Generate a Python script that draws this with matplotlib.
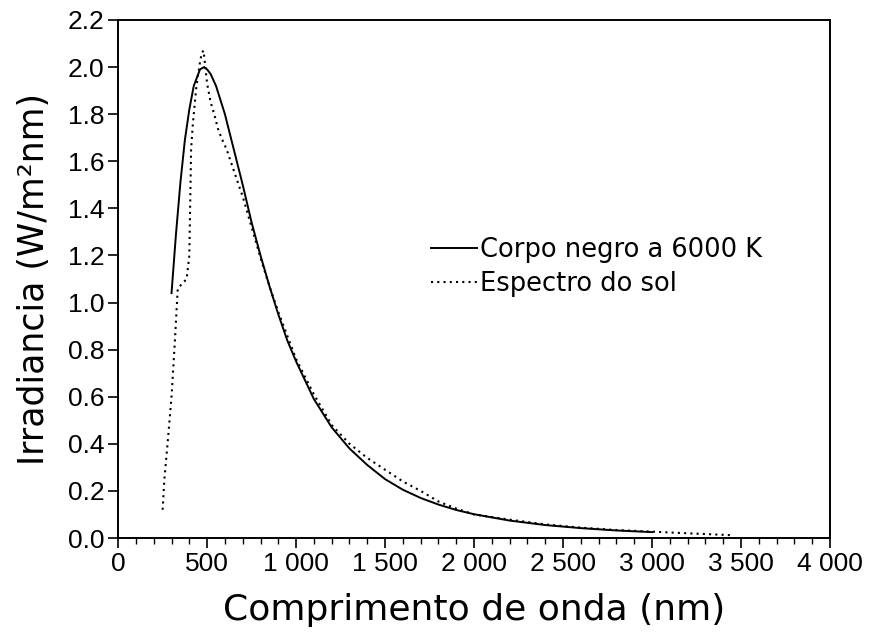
import numpy as np
import matplotlib.pyplot as plt
from matplotlib.ticker import MultipleLocator

# Blackbody curve at 6000 K
bb_wl = [300, 325, 350, 375, 400, 425, 450, 460, 483, 500, 520, 550, 600, 650, 700, 750,
         800, 850, 900, 950, 1000, 1100, 1200, 1300, 1400, 1500, 1600, 1700, 1800,
         1900, 2000, 2200, 2400, 2600, 2800, 3000]
bb_irr = [1.04, 1.29, 1.51, 1.69, 1.82, 1.92, 1.97, 1.99, 2.00, 1.99, 1.97, 1.92, 1.80, 1.65,
          1.50, 1.34, 1.20, 1.07, 0.95, 0.84, 0.75, 0.59, 0.47, 0.38, 0.31, 0.25, 0.205,
          0.17, 0.142, 0.119, 0.101, 0.074, 0.055, 0.042, 0.032, 0.025]

# Solar spectrum (dotted)
sun_wl = [250, 260, 280, 300, 320, 335, 360, 385, 400, 410, 420, 440, 460, 470, 480,
          490, 500, 520, 540, 560, 580, 610, 650, 700, 750, 800, 850, 900, 950, 1000,
          1100, 1200, 1300, 1400, 1500, 1600, 1700, 1800, 1900, 2000, 2200, 2400,
          2600, 2800, 3000, 3200, 3450]
sun_irr = [0.12, 0.25, 0.42, 0.60, 0.85, 1.06, 1.08, 1.10, 1.20, 1.65, 1.76, 1.92, 2.02, 2.06, 2.07,
           2.00, 1.93, 1.85, 1.80, 1.74, 1.70, 1.65, 1.56, 1.45, 1.32, 1.19, 1.07, 0.96, 0.86, 0.76,
           0.61, 0.48, 0.40, 0.34, 0.29, 0.24, 0.20, 0.155, 0.125, 0.10, 0.078, 0.058,
           0.044, 0.034, 0.027, 0.02, 0.012]

xticks = [0, 500, 1000, 1500, 2000, 2500, 3000, 3500, 4000]
xticklabels = ['0', '500', '1 000', '1 500', '2 000', '2 500', '3 000', '3 500', '4 000']
yticks = [0.0, 0.2, 0.4, 0.6, 0.8, 1.0, 1.2, 1.4, 1.6, 1.8, 2.0, 2.2]

fig = plt.figure(figsize=(8.75, 6.34), dpi=100)
ax = fig.add_axes([0.135, 0.1514, 0.8136, 0.8171])

ax.plot(bb_wl, bb_irr, color='black', lw=1.4, label='Corpo negro a 6000 K')
ax.plot(sun_wl, sun_irr, color='black', lw=1.5, linestyle=(0, (1, 2)),
        label='Espectro do sol')

ax.set_xlim(0, 4000)
ax.set_ylim(0, 2.2)

tickfont = ['Liberation Sans', 'DejaVu Sans']
ax.set_xticks(xticks)
ax.set_xticklabels(xticklabels, family=tickfont, fontsize=19)
ax.xaxis.set_minor_locator(MultipleLocator(100))
ax.set_yticks(yticks)
ax.set_yticklabels(['%.1f' % v for v in yticks], family=tickfont, fontsize=19)

ax.tick_params(axis='both', which='major', direction='out', length=7, width=1.2,
               pad=3, color='black')
ax.tick_params(axis='x', which='minor', direction='out', length=4, width=1.0)

for s in ax.spines.values():
    s.set_linewidth(1.4)

ax.set_xlabel('Comprimento de onda (nm)', fontsize=26, family='DejaVu Sans', labelpad=12)
ax.set_ylabel('Irradiancia (W/m\u00b2nm)', fontsize=25, family='DejaVu Sans', labelpad=12)

leg = ax.legend(loc='upper left', bbox_to_anchor=(0.425, 0.6), frameon=False,
                fontsize=18.5, handlelength=1.8, handletextpad=0.1, labelspacing=0.3,
                borderaxespad=0)

fig.savefig('out.png', dpi=100)
